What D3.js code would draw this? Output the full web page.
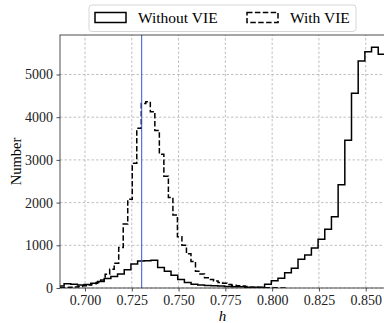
<!DOCTYPE html>
<html>
<head>
<meta charset="utf-8">
<script src="https://cdn.jsdelivr.net/npm/d3@7"></script>
<style>
  html, body { margin: 0; padding: 0; background: #fff; }
  svg { display: block; font-family: "Liberation Serif", "DejaVu Serif", serif; }
</style>
</head>
<body>
<div id="chart"></div>
<script>
// histogram bins (h) for each sample
const withoutStart = 0.68169, withoutWidth = 0.0035714;
const withStart = 0.68665, withWidth = 0.002413;

const withoutCounts = [30, 45, 100, 85, 70, 80, 110, 150, 220, 270,
    330, 430, 560, 630, 640, 650, 480, 390, 300, 200,
    130, 90, 70, 60, 50, 45, 35, 30, 28, 20,
    15, 20, 86, 172, 226, 359, 460, 671, 773, 935,
    1140, 1374, 1670, 2420, 3460, 4560, 5316, 5534, 5637, 5473];

const withCounts = [5, 10, 15, 25, 35, 50, 70, 100, 130, 190,
    320, 440, 580, 950, 1500, 2080, 2920, 3740, 4320, 4360,
    4130, 3690, 3130, 2620, 2120, 1710, 1200, 1000, 800, 620,
    390, 330, 240, 200, 165, 130, 110, 80, 65, 50,
    45, 35, 20, 15, 10, 6, 4, 3, 2, 1];

const xTicks = [0.700, 0.725, 0.750, 0.775, 0.800, 0.825, 0.850];
const yTicks = [0, 1000, 2000, 3000, 4000, 5000];
const trueH = 0.7303;
const legendLabels = ["Without VIE", "With VIE"];

function init() {
    const width = 384;
    const height = 323;
    const margin = { top: 35, right: -1, bottom: 35, left: 60 };

    const x = d3.scaleLinear().domain([0.68665, 0.8603]).range([margin.left, width - margin.right]);
    const y = d3.scaleLinear().domain([0, 5925]).range([height - margin.bottom, margin.top]);

    const svg = d3.select("#chart").append("svg")
        .attr("width", width)
        .attr("height", height);

    svg.append("defs").append("clipPath").attr("id", "clip")
        .append("rect")
        .attr("x", x.range()[0]).attr("y", y.range()[1])
        .attr("width", x.range()[1] - x.range()[0])
        .attr("height", y.range()[0] - y.range()[1]);

    // grid
    const grid = svg.append("g").attr("stroke", "#b0b0b0").attr("stroke-width", 0.8)
        .attr("stroke-dasharray", "2.5,2");
    xTicks.forEach(t => {
        grid.append("line").attr("x1", x(t)).attr("x2", x(t))
            .attr("y1", y.range()[0]).attr("y2", y.range()[1]);
    });
    yTicks.forEach(t => {
        grid.append("line").attr("y1", y(t)).attr("y2", y(t))
            .attr("x1", x.range()[0]).attr("x2", x.range()[1]);
    });

    // step outline like matplotlib histtype='step'
    function stepPath(start, w, counts) {
        const pts = [[start, 0]];
        counts.forEach((c, i) => {
            pts.push([start + i * w, c]);
            pts.push([start + (i + 1) * w, c]);
        });
        pts.push([start + counts.length * w, 0]);
        return d3.line().x(d => x(d[0])).y(d => y(d[1]))(pts);
    }

    const plot = svg.append("g").attr("clip-path", "url(#clip)");

    plot.append("path")
        .attr("d", stepPath(withStart, withWidth, withCounts))
        .attr("fill", "none").attr("stroke", "#000").attr("stroke-width", 1.5)
        .attr("stroke-dasharray", "5.5,2.4");

    plot.append("path")
        .attr("d", stepPath(withoutStart, withoutWidth, withoutCounts))
        .attr("fill", "none").attr("stroke", "#000").attr("stroke-width", 1.5);

    plot.append("line")
        .attr("x1", x(trueH)).attr("x2", x(trueH))
        .attr("y1", y.range()[0]).attr("y2", y.range()[1])
        .attr("stroke", "#3556cc").attr("stroke-width", 1);

    // axes
    const xAxis = svg.append("g")
        .attr("transform", `translate(0,${y.range()[0]})`)
        .call(d3.axisBottom(x).tickValues(xTicks).tickFormat(d3.format(".3f")).tickSize(3.5).tickPadding(3.5));
    const yAxis = svg.append("g")
        .attr("transform", `translate(${x.range()[0]},0)`)
        .call(d3.axisLeft(y).tickValues(yTicks).tickFormat(d3.format("d")).tickSize(3.5).tickPadding(3.5));
    [xAxis, yAxis].forEach(g => {
        g.select(".domain").remove();
        g.selectAll("line").attr("stroke", "#222").attr("stroke-width", 0.8);
        g.selectAll("text").attr("font-family", "Liberation Serif").attr("font-size", 14).attr("fill", "#222");
    });

    // spines (right spine falls outside the picture)
    svg.append("rect")
        .attr("x", x.range()[0]).attr("y", y.range()[1])
        .attr("width", x.range()[1] - x.range()[0])
        .attr("height", y.range()[0] - y.range()[1])
        .attr("fill", "none").attr("stroke", "#222").attr("stroke-width", 0.8);

    // labels
    svg.append("text")
        .attr("x", (x.range()[0] + 385) / 2).attr("y", 320.5)
        .attr("text-anchor", "middle").attr("font-size", 15).attr("font-style", "italic")
        .text("h");

    svg.append("text")
        .attr("transform", `translate(20.5,${(y.range()[0] + y.range()[1]) / 2}) rotate(-90)`)
        .attr("text-anchor", "middle").attr("font-size", 14.5)
        .text("Number");

    // legend
    const legend = svg.append("g");
    legend.append("rect")
        .attr("x", 89).attr("y", 5).attr("width", 267).attr("height", 26.5).attr("rx", 3)
        .attr("fill", "#fff").attr("fill-opacity", 0.8)
        .attr("stroke", "#cccccc").attr("stroke-width", 0.8);

    const entryX = [95, 247];
    legendLabels.forEach((label, i) => {
        legend.append("rect")
            .attr("x", entryX[i]).attr("y", 12.5).attr("width", 31).attr("height", 10)
            .attr("fill", "none").attr("stroke", "#000").attr("stroke-width", 1.5)
            .attr("stroke-dasharray", i === 1 ? "5.5,2.4" : null);
        legend.append("text")
            .attr("x", entryX[i] + 43).attr("y", 22.5)
            .attr("font-size", 15.5)
            .text(label);
    });
}

window.onload = init;
</script>
</body>
</html>
